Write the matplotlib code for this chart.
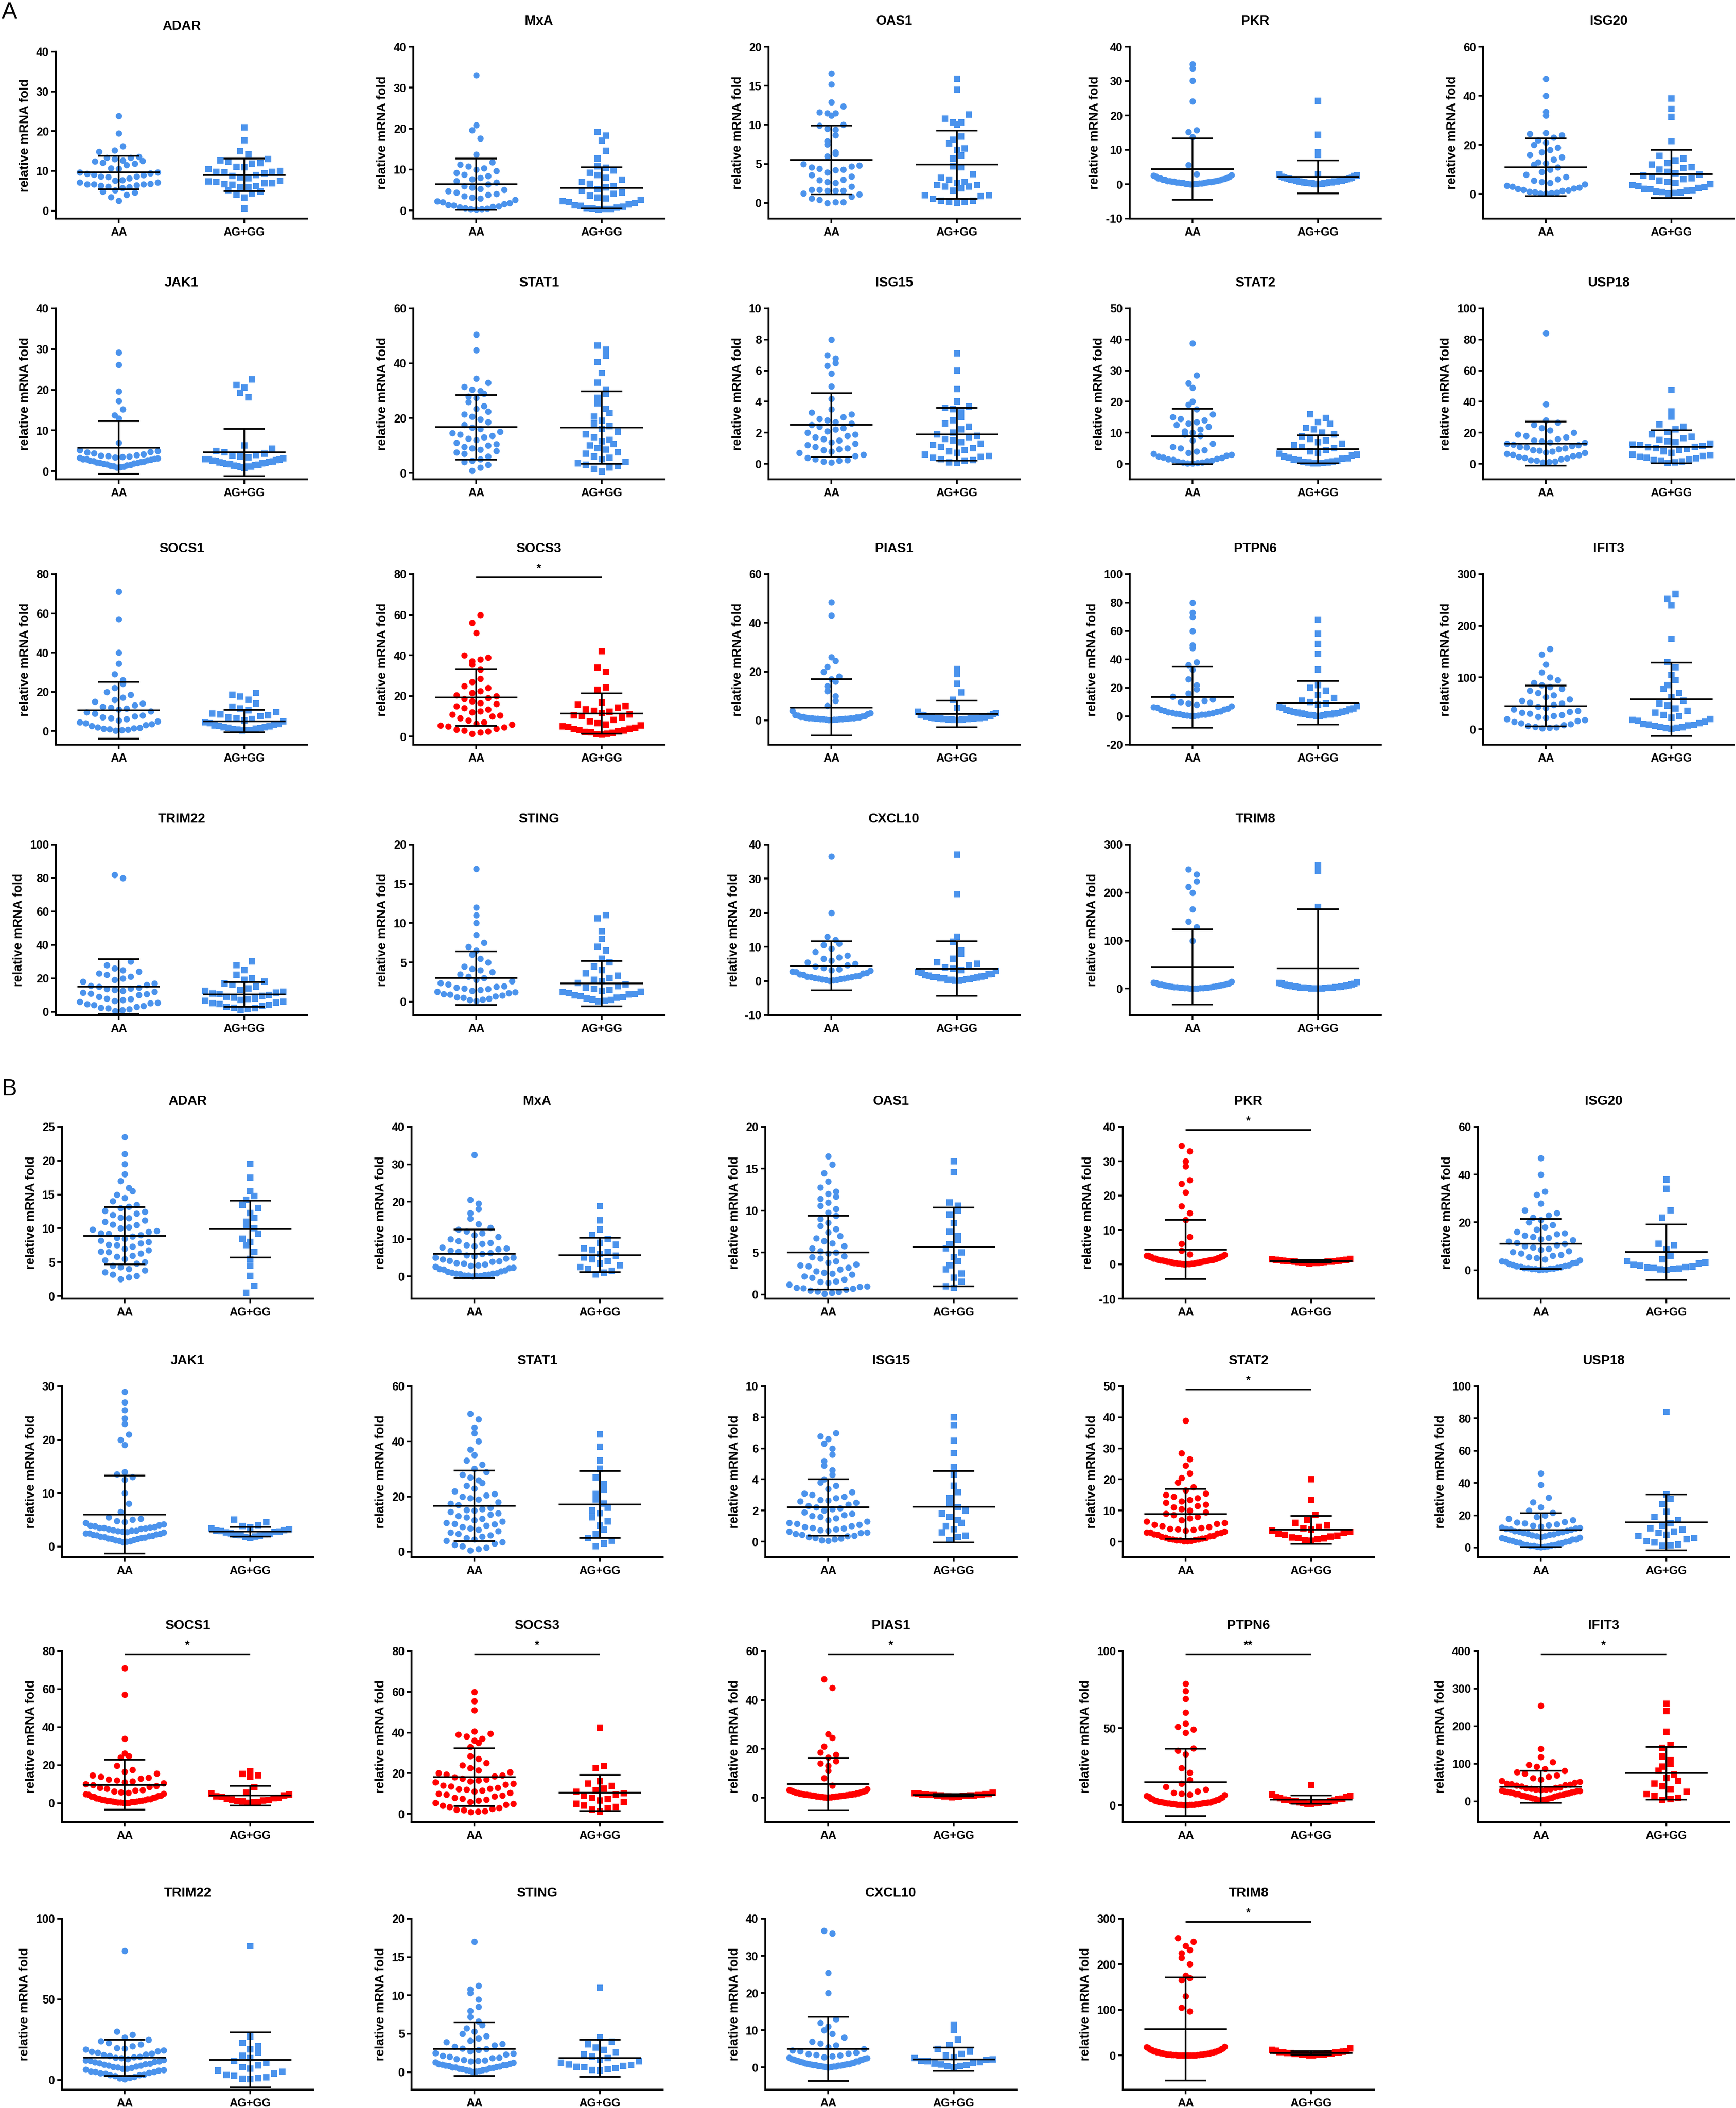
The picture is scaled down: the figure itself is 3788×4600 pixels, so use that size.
import numpy as np
import matplotlib
matplotlib.use("Agg")
import matplotlib.pyplot as plt

plt.rcParams['font.family'] = ['Liberation Sans', 'DejaVu Sans']

GENES = ['ADAR', 'MxA', 'OAS1', 'PKR', 'ISG20', 'JAK1', 'STAT1', 'ISG15', 'STAT2', 'USP18',
         'SOCS1', 'SOCS3', 'PIAS1', 'PTPN6', 'IFIT3', 'TRIM22', 'STING', 'CXCL10', 'TRIM8']
GROUPS = ['AA', 'AG+GG']
YLABEL = 'relative mRNA fold'

# ======================= Section A =======================
A_ADAR_AA = [23.8, 19.5, 16.2, 15.2, 14.9, 13.6, 13.3, 12.5, 12.4, 12.1, 11.8, 11.5, 12.6, 13.0, 13.4, 10.7,
             10.6, 9.6, 9.6, 9.4, 9.3, 9.1, 9.0, 8.6, 8.6, 8.5, 8.2, 7.7, 7.6, 7.1, 7.1, 6.8, 6.7, 6.7, 6.6,
             6.4, 6.3, 6.1, 6.0, 5.7, 5.1, 4.8, 4.6, 4.0, 3.4, 2.5]
A_ADAR_AG = [21.0, 17.7, 15.0, 14.2, 13.0, 12.6, 12.3, 12.0, 11.8, 11.0, 10.9, 10.5, 10.0, 9.8, 9.8, 9.6,
             9.4, 9.0, 8.7, 8.4, 8.2, 7.5, 7.4, 7.2, 6.9, 6.9, 6.6, 6.5, 6.2, 6.0, 5.9, 5.2, 4.8, 4.3, 4.0,
             3.3, 0.5]
A_MxA_AA = [33.0, 20.8, 19.6, 17.6, 13.7, 11.8, 11.2, 10.8, 10.3, 10.0, 9.6, 9.2, 8.8, 8.4, 8.0, 7.6, 7.2,
            6.8, 6.4, 6.0, 5.6, 5.3, 5.0, 4.7, 4.4, 4.1, 3.8, 3.5, 3.2, 2.9, 2.6, 2.3, 2.0, 1.8, 1.6, 1.4,
            1.2, 1.0, 0.9, 0.8, 0.6, 0.5, 0.4, 0.3, 0.2]
A_MxA_AG = [19.2, 18.3, 17.0, 14.6, 12.7, 10.8, 10.4, 9.8, 9.2, 8.6, 8.0, 7.5, 7.0, 6.5, 6.0, 5.6, 5.2, 4.8,
            4.4, 4.0, 3.6, 3.2, 2.9, 2.6, 2.3, 2.0, 1.8, 1.5, 1.3, 1.1, 0.9, 0.7, 0.6, 0.5, 0.4, 0.3, 0.2]
A_OAS1_AA = [16.6, 15.2, 12.9, 12.4, 11.6, 11.5, 11.2, 11.5, 9.9, 10.0, 9.4, 9.5, 8.7, 7.9, 7.5, 6.5, 6.3,
             6.0, 5.0, 4.6, 4.4, 4.3, 4.7, 4.8, 4.2, 3.9, 3.4, 3.6, 2.9, 3.0, 2.6, 2.7, 2.1, 1.7, 1.6, 1.6,
             1.6, 1.7, 1.2, 1.1, 0.6, 0.4, 0.8, 0.1, 0.0, 0.1]
A_OAS1_AG = [15.9, 14.5, 11.3, 10.8, 10.3, 10.0, 10.3, 8.5, 8.1, 7.6, 7.0, 6.8, 6.1, 5.7, 4.7, 4.6, 3.7, 3.0,
             3.2, 2.6, 2.7, 2.3, 2.1, 1.9, 1.6, 2.1, 2.3, 1.0, 0.9, 0.3, 0.1, 0.0, 0.1, 0.3, 0.5, 1.0]
A_PKR_AA = [35.0, 33.8, 30.2, 24.2, 15.8, 15.2, 13.8, 5.6, 3.0, 2.7, 2.5, 2.3, 2.1, 1.9, 1.8, 1.7, 1.6, 1.5,
            1.4, 1.3, 1.2, 1.1, 1.0, 0.95, 0.9, 0.85, 0.8, 0.75, 0.7, 0.65, 0.6, 0.55, 0.5, 0.45, 0.4, 0.35,
            0.3, 0.25, 0.2, 0.15, 0.1, 0.1, 0.05, 0.05]
A_PKR_AG = [24.3, 14.4, 9.4, 8.6, 3.0, 2.8, 2.6, 2.4, 2.2, 2.0, 1.9, 1.8, 1.7, 1.6, 1.5, 1.4, 1.3, 1.2, 1.1,
            1.0, 0.9, 0.85, 0.8, 0.75, 0.7, 0.6, 0.55, 0.5, 0.45, 0.4, 0.35, 0.3, 0.25, 0.2, 0.15, 0.1, 0.05]
A_ISG20_AA = [47.0, 40.0, 33.5, 32.0, 25.0, 24.5, 24.0, 23.0, 22.0, 21.0, 20.0, 19.0, 18.0, 17.0, 16.0, 15.0,
              14.0, 13.0, 12.5, 12.0, 11.0, 10.0, 9.0, 8.0, 7.0, 6.0, 5.5, 5.0, 4.5, 4.0, 3.5, 3.0, 2.7, 2.4,
              2.1, 1.8, 1.5, 1.3, 1.1, 0.9, 0.7, 0.5, 0.3, 0.2]
A_ISG20_AG = [39.0, 34.8, 31.5, 21.5, 15.5, 14.5, 13.5, 12.5, 12.0, 11.0, 10.5, 10.0, 9.0, 8.5, 8.0, 7.5, 7.0,
              6.5, 6.0, 5.5, 5.0, 4.5, 4.0, 3.6, 3.2, 2.8, 2.5, 2.2, 1.9, 1.6, 1.3, 1.0, 0.8, 0.6, 0.4, 0.2]
A_JAK1_AA = [29.2, 26.2, 19.6, 17.2, 15.2, 13.8, 13.0, 7.0, 5.2, 5.0, 4.8, 4.6, 4.4, 4.2, 4.0, 3.8, 3.7, 3.6,
             3.5, 3.4, 3.3, 3.2, 3.1, 3.0, 2.9, 2.8, 2.7, 2.6, 2.5, 2.4, 2.3, 2.2, 2.1, 2.0, 1.9, 1.8, 1.7,
             1.6, 1.5, 1.4, 1.3, 1.2, 1.0, 0.9]
A_JAK1_AG = [22.5, 21.2, 20.5, 19.3, 18.2, 6.3, 5.5, 5.0, 4.6, 4.3, 4.0, 3.8, 3.6, 3.4, 3.2, 3.0, 2.9, 2.8,
             2.7, 2.6, 2.5, 2.4, 2.3, 2.2, 2.1, 2.0, 1.9, 1.8, 1.7, 1.6, 1.5, 1.4, 1.3, 1.2, 1.1, 1.0, 0.8]
A_STAT1_AA = [50.5, 44.8, 34.5, 33.0, 31.5, 30.5, 30.0, 29.0, 28.0, 27.5, 26.0, 24.5, 23.5, 22.5, 21.5, 20.5,
              19.5, 18.5, 17.5, 16.5, 16.0, 15.0, 14.5, 14.0, 13.5, 13.0, 12.5, 12.0, 11.0, 10.5, 10.0, 9.5,
              9.0, 8.5, 8.0, 7.5, 7.0, 6.0, 5.0, 4.5, 4.0, 3.0, 2.0, 0.8]
A_STAT1_AG = [46.5, 45.0, 42.8, 40.5, 36.5, 33.0, 30.5, 29.0, 27.5, 25.5, 23.5, 22.0, 20.5, 19.0, 18.0, 17.0,
              16.0, 15.0, 14.0, 13.0, 12.0, 11.5, 10.5, 10.0, 9.0, 8.5, 7.5, 7.0, 6.0, 5.5, 5.0, 4.0, 3.5,
              3.0, 2.5, 2.0, 1.5, 0.5]
A_ISG15_AA = [8.0, 7.0, 6.8, 6.5, 6.3, 5.8, 5.0, 4.2, 3.5, 3.3, 3.2, 3.0, 2.9, 2.8, 2.7, 2.6, 2.5, 2.4, 2.3,
              2.2, 2.1, 2.0, 1.9, 1.8, 1.7, 1.6, 1.5, 1.4, 1.3, 1.2, 1.1, 1.0, 0.95, 0.9, 0.8, 0.7, 0.6, 0.5,
              0.4, 0.3, 0.25, 0.2, 0.15, 0.1]
A_ISG15_AG = [7.1, 6.0, 4.8, 4.0, 3.7, 3.6, 3.5, 3.3, 3.0, 2.8, 2.6, 2.4, 2.2, 2.0, 1.9, 1.8, 1.7, 1.6, 1.5,
              1.4, 1.3, 1.2, 1.1, 1.0, 0.9, 0.8, 0.7, 0.6, 0.5, 0.45, 0.4, 0.3, 0.25, 0.2, 0.1, 0.05]
A_STAT2_AA = [38.8, 28.5, 26.0, 24.5, 20.0, 19.0, 17.5, 16.0, 15.0, 14.5, 14.0, 13.5, 13.0, 12.5, 12.0, 11.0,
              10.5, 10.0, 9.5, 9.0, 7.5, 6.5, 5.5, 5.0, 4.5, 4.0, 3.6, 3.3, 3.0, 2.7, 2.4, 2.1, 1.9, 1.7, 1.5,
              1.3, 1.1, 0.9, 0.7, 0.5, 0.4, 0.3, 0.2, 0.1]
A_STAT2_AG = [16.0, 14.8, 13.5, 12.8, 11.5, 11.0, 10.0, 9.5, 8.8, 8.0, 7.5, 7.0, 6.5, 6.0, 5.5, 5.0, 4.5, 4.0,
              3.6, 3.2, 2.9, 2.6, 2.3, 2.0, 1.8, 1.6, 1.4, 1.2, 1.0, 0.8, 0.6, 0.5, 0.4, 0.3, 0.2, 0.1]
A_USP18_AA = [84.0, 38.5, 28.0, 26.5, 25.0, 23.0, 21.5, 20.0, 19.0, 18.0, 17.0, 16.0, 15.0, 14.5, 14.0, 13.5,
              13.0, 12.5, 12.0, 11.5, 11.0, 10.5, 10.0, 9.5, 9.0, 8.5, 8.0, 7.5, 7.0, 6.5, 6.0, 5.5, 5.0, 4.5,
              4.0, 3.5, 3.0, 2.5, 2.0, 1.5, 1.2, 1.0]
A_USP18_AG = [47.5, 33.5, 30.5, 25.5, 24.0, 22.0, 20.5, 19.0, 17.5, 16.5, 15.5, 14.5, 14.0, 13.0, 12.5, 12.0,
              11.5, 11.0, 10.5, 10.0, 9.5, 9.0, 8.0, 7.0, 6.0, 5.5, 5.0, 4.5, 4.0, 3.5, 3.0, 2.5, 2.0, 1.5,
              1.0, 0.5]
A_SOCS1_AA = [71.0, 57.0, 40.0, 34.5, 29.0, 26.0, 24.0, 22.0, 20.0, 18.5, 17.0, 16.0, 15.0, 14.0, 13.0, 12.5,
              12.0, 11.5, 11.0, 10.0, 9.5, 9.0, 8.0, 7.5, 7.0, 6.5, 6.0, 5.5, 5.0, 4.5, 4.0, 3.5, 3.0, 2.5,
              2.0, 1.7, 1.4, 1.1, 0.9, 0.7, 0.5, 0.3]
A_SOCS1_AG = [19.5, 18.5, 17.5, 16.0, 14.0, 12.5, 11.5, 10.5, 9.5, 9.0, 8.5, 8.0, 7.5, 7.0, 6.5, 6.0, 5.5, 5.0,
              4.5, 4.0, 3.5, 3.2, 2.9, 2.6, 2.3, 2.0, 1.8, 1.6, 1.4, 1.2, 1.0, 0.8, 0.6, 0.4, 0.2]
A_SOCS3_AA = [60.0, 56.0, 51.0, 40.0, 39.0, 38.0, 37.0, 35.5, 33.0, 28.5, 27.0, 25.0, 24.0, 22.5, 21.5, 20.5,
              20.0, 19.0, 18.5, 17.5, 16.5, 16.0, 15.0, 14.0, 13.5, 12.5, 12.0, 11.0, 10.5, 10.0, 9.0, 8.0,
              7.0, 6.5, 6.0, 5.5, 5.0, 4.5, 4.0, 3.5, 3.0, 2.5, 2.0, 1.5]
A_SOCS3_AG = [42.0, 34.0, 31.8, 24.3, 23.2, 16.8, 15.7, 14.9, 14.2, 13.3, 12.7, 12.2, 11.5, 10.8, 10.5, 10.0,
              9.3, 8.1, 7.6, 6.6, 6.0, 5.5, 5.0, 4.7, 4.4, 4.0, 3.6, 3.2, 2.9, 2.6, 2.3, 2.0, 1.8, 1.5, 1.2, 1.0]
A_PIAS1_AA = [48.5, 43.0, 26.0, 24.5, 22.0, 20.0, 18.0, 17.0, 16.0, 14.0, 12.0, 10.0, 8.0, 6.0, 4.0, 3.0, 2.6,
              2.3, 2.0, 1.8, 1.6, 1.5, 1.4, 1.3, 1.2, 1.1, 1.0, 0.95, 0.9, 0.85, 0.8, 0.75, 0.7, 0.65, 0.6,
              0.55, 0.5, 0.45, 0.4, 0.35, 0.3, 0.2, 0.1]
A_PIAS1_AG = [21.0, 19.0, 15.0, 11.5, 8.5, 5.0, 3.5, 3.0, 2.6, 2.3, 2.0, 1.8, 1.6, 1.5, 1.4, 1.3, 1.2, 1.1,
              1.0, 0.9, 0.85, 0.8, 0.75, 0.7, 0.65, 0.6, 0.55, 0.5, 0.45, 0.4, 0.35, 0.3, 0.25, 0.2, 0.1]
A_PTPN6_AA = [80.0, 73.0, 70.0, 60.0, 50.0, 48.0, 38.0, 36.0, 33.0, 26.0, 22.0, 19.0, 16.0, 14.0, 12.0, 11.0,
              10.0, 9.0, 8.0, 7.0, 6.5, 6.0, 5.5, 5.0, 4.5, 4.0, 3.6, 3.2, 2.9, 2.6, 2.3, 2.0, 1.8, 1.6, 1.4,
              1.2, 1.0, 0.8, 0.6, 0.4, 0.2]
A_PTPN6_AG = [68.0, 58.0, 51.0, 44.0, 33.0, 22.0, 20.0, 18.0, 15.0, 13.0, 11.0, 10.0, 9.0, 8.0, 7.0, 6.5, 6.0,
              5.5, 5.0, 4.5, 4.0, 3.6, 3.2, 2.8, 2.5, 2.2, 2.0, 1.8, 1.6, 1.4, 1.2, 1.0, 0.8, 0.6, 0.4, 0.2]
A_IFIT3_AA = [155, 145, 125, 110, 100, 95, 90, 85, 82, 78, 75, 70, 66, 62, 58, 55, 52, 50, 47, 44, 41, 38, 36,
              34, 32, 30, 28, 26, 24, 22, 20, 18, 16, 14, 12, 10, 8, 6, 5, 4, 3, 2]
A_IFIT3_AG = [262, 252, 240, 175, 130, 120, 105, 95, 85, 78, 70, 62, 55, 50, 45, 40, 36, 32, 28, 25, 22, 20,
              18, 16, 14, 12, 10, 9, 8, 7, 6, 5, 4, 3, 2, 1]
A_TRIM22_AA = [82.0, 80.0, 30.0, 28.0, 26.0, 25.0, 24.0, 23.0, 22.0, 21.0, 20.0, 19.0, 18.0, 17.0, 16.0, 15.5,
               15.0, 14.5, 14.0, 13.5, 13.0, 12.5, 12.0, 11.5, 11.0, 10.5, 10.0, 9.0, 8.0, 7.5, 7.0, 6.5, 6.0,
               5.5, 5.0, 4.5, 4.0, 3.5, 3.0, 2.5, 2.0, 1.5, 1.0, 0.5]
A_TRIM22_AG = [30.0, 28.0, 25.0, 22.0, 20.0, 19.0, 18.0, 17.0, 16.0, 15.0, 14.0, 13.0, 12.5, 12.0, 11.5, 11.0,
               10.5, 10.0, 9.5, 9.0, 8.5, 8.0, 7.5, 7.0, 6.5, 6.0, 5.5, 5.0, 4.5, 4.0, 3.5, 3.0, 2.5, 2.0,
               1.5, 1.0]
A_STING_AA = [16.9, 12.0, 11.0, 10.0, 8.5, 7.5, 7.0, 6.5, 6.0, 5.5, 5.0, 4.5, 4.2, 4.0, 3.8, 3.5, 3.2, 3.0,
              2.8, 2.6, 2.4, 2.2, 2.0, 1.9, 1.8, 1.7, 1.6, 1.5, 1.4, 1.3, 1.2, 1.1, 1.0, 0.9, 0.8, 0.7, 0.6,
              0.5, 0.4, 0.3, 0.2, 0.1]
A_STING_AG = [11.0, 10.6, 9.0, 8.0, 7.0, 6.5, 5.5, 5.0, 4.5, 4.0, 3.6, 3.3, 3.0, 2.8, 2.6, 2.4, 2.2, 2.0, 1.8,
              1.6, 1.5, 1.4, 1.3, 1.2, 1.1, 1.0, 0.9, 0.8, 0.7, 0.6, 0.5, 0.4, 0.3, 0.2, 0.1, 0.05]
A_CXCL10_AA = [36.5, 20.0, 13.0, 12.0, 11.0, 10.5, 9.5, 8.5, 7.5, 7.0, 6.5, 6.0, 5.5, 5.0, 4.6, 4.2, 3.8, 3.5,
               3.2, 3.0, 2.8, 2.6, 2.4, 2.2, 2.0, 1.8, 1.6, 1.4, 1.3, 1.2, 1.1, 1.0, 0.9, 0.8, 0.7, 0.6, 0.5,
               0.4, 0.3, 0.2, 0.1]
A_CXCL10_AG = [37.0, 25.5, 13.0, 11.5, 9.0, 8.0, 6.5, 5.5, 5.0, 4.5, 4.0, 3.6, 3.2, 2.9, 2.6, 2.3, 2.1, 1.9,
               1.7, 1.5, 1.4, 1.3, 1.2, 1.1, 1.0, 0.9, 0.8, 0.7, 0.6, 0.5, 0.4, 0.3, 0.2, 0.1, 0.05]
A_TRIM8_AA = [248, 238, 224, 212, 200, 165, 140, 128, 100, 15, 13, 12, 11, 10, 9, 8.5, 8, 7.5, 7, 6.5, 6, 5.5,
              5, 4.5, 4, 3.6, 3.2, 2.8, 2.5, 2.2, 2.0, 1.8, 1.6, 1.4, 1.2, 1.0, 0.8, 0.6, 0.4, 0.2]
A_TRIM8_AG = [258, 246, 170, 14, 12, 11, 10, 9, 8, 7.5, 7, 6.5, 6, 5.5, 5, 4.5, 4, 3.6, 3.2, 2.8, 2.5, 2.2,
              2.0, 1.8, 1.6, 1.4, 1.2, 1.0, 0.8, 0.6, 0.4, 0.2, 0.1]

A_YTICKS = [[0, 10, 20, 30, 40], [0, 10, 20, 30, 40], [0, 5, 10, 15, 20], [-10, 0, 10, 20, 30, 40],
            [0, 20, 40, 60], [0, 10, 20, 30, 40], [0, 20, 40, 60], [0, 2, 4, 6, 8, 10],
            [0, 10, 20, 30, 40, 50], [0, 20, 40, 60, 80, 100], [0, 20, 40, 60, 80], [0, 20, 40, 60, 80],
            [0, 20, 40, 60], [-20, 0, 20, 40, 60, 80, 100], [0, 100, 200, 300], [0, 20, 40, 60, 80, 100],
            [0, 5, 10, 15, 20], [-10, 0, 10, 20, 30, 40], [0, 100, 200, 300]]
A_YMIN = [-2, -2, -2, -10, -10, -2, -2.3, -1, -5, -10, -7, -4, -10, -20, -30, -2, -1.7, -10, -55]
A_MEAN_AA = [9.6, 6.4, 5.5, 4.4, 10.9, 5.8, 16.7, 2.5, 8.8, 12.9, 10.5, 19.3, 5.3, 13.5, 44.7, 15.0, 3.0, 4.4, 45]
A_SD_AA = [4.2, 6.3, 4.4, 8.9, 11.8, 6.5, 11.8, 2.05, 8.9, 14.2, 14.5, 14.0, 11.6, 21.5, 39.5, 16.5, 3.4, 7.2, 78]
A_MEAN_AG = [9.0, 5.5, 4.9, 2.2, 8.2, 4.6, 16.6, 1.9, 4.7, 11.0, 5.0, 11.4, 2.6, 9.5, 58, 10.3, 2.3, 3.6, 42]
A_SD_AG = [4.1, 5.0, 4.35, 4.8, 9.8, 5.8, 13.2, 1.7, 4.5, 10.7, 5.8, 9.9, 5.4, 15.2, 71, 7.5, 2.9, 8.0, 123]
A_SIG = ['', '', '', '', '', '', '', '', '', '', '', '*', '', '', '', '', '', '', '']

# ======================= Section B =======================
B_ADAR_AA = [23.5, 21.0, 19.5, 18.0, 17.0, 16.0, 15.5, 15.0, 14.5, 14.0, 13.5, 13.2, 13.0, 12.5, 12.2, 12.0,
             11.5, 11.2, 11.0, 10.5, 10.2, 10.0, 9.8, 9.5, 9.2, 9.0, 8.8, 8.5, 8.2, 8.0, 7.8, 7.5, 7.3, 7.0,
             6.8, 6.5, 6.3, 6.0, 5.8, 5.5, 5.3, 5.0, 4.8, 4.5, 4.3, 4.0, 3.8, 3.5, 3.2, 3.0, 2.8, 2.5, 9.6,
             8.6, 7.6, 6.6, 10.6, 11.6, 12.6, 9.3]
B_ADAR_AG = [19.5, 17.5, 15.5, 14.8, 14.2, 13.5, 13.0, 12.3, 11.5, 11.0, 10.5, 10.0, 9.2, 8.5, 8.0, 7.5, 6.5,
             5.5, 4.5, 3.0, 1.5, 0.5]
B_MxA_AA = [32.5, 20.5, 19.5, 18.0, 17.0, 15.5, 14.0, 13.0, 12.5, 12.0, 11.5, 11.0, 10.5, 10.0, 9.5, 9.0, 8.7,
            8.4, 8.1, 7.8, 7.5, 7.2, 6.9, 6.6, 6.3, 6.0, 5.7, 5.4, 5.1, 4.8, 4.5, 4.2, 3.9, 3.6, 3.4, 3.2, 3.0,
            2.8, 2.6, 2.4, 2.2, 2.0, 1.8, 1.6, 1.4, 1.2, 1.0, 0.9, 0.8, 0.7, 0.6, 0.5, 0.4, 0.3, 0.2, 0.15,
            0.1, 0.05, 5.0, 4.0]
B_MxA_AG = [18.8, 15.0, 12.5, 11.0, 10.0, 9.0, 8.5, 7.5, 7.0, 6.5, 6.0, 5.5, 5.0, 4.5, 4.0, 3.5, 3.0, 2.5, 2.0,
            1.5, 1.0, 0.5]
B_OAS1_AA = [16.5, 15.5, 14.5, 13.5, 12.8, 12.3, 12.0, 11.7, 11.4, 11.0, 10.6, 10.2, 9.8, 9.4, 9.0, 8.6, 8.2,
             7.8, 7.4, 7.0, 6.7, 6.4, 6.1, 5.8, 5.5, 5.2, 4.9, 4.6, 4.3, 4.0, 3.8, 3.6, 3.4, 3.2, 3.0, 2.8,
             2.6, 2.4, 2.2, 2.0, 1.8, 1.6, 1.4, 1.2, 1.0, 0.9, 0.8, 0.7, 0.6, 0.5, 0.4, 0.3, 0.2, 0.1, 2.5,
             3.5, 4.5, 5.0, 1.5, 0.75]
B_OAS1_AG = [15.9, 14.6, 11.0, 10.6, 10.0, 9.5, 8.5, 7.5, 7.0, 6.5, 6.0, 5.5, 5.0, 4.5, 4.0, 3.5, 3.0, 2.5,
             2.0, 1.5, 1.0, 0.8]
B_PKR_AA = [34.5, 33.0, 30.0, 28.5, 24.5, 23.5, 21.0, 17.0, 15.0, 13.0, 8.0, 6.0, 4.0, 3.0, 2.8, 2.6, 2.5, 2.4,
            2.3, 2.2, 2.1, 2.0, 1.9, 1.8, 1.7, 1.6, 1.5, 1.45, 1.4, 1.35, 1.3, 1.25, 1.2, 1.15, 1.1, 1.05, 1.0,
            0.95, 0.9, 0.85, 0.8, 0.75, 0.7, 0.65, 0.6, 0.55, 0.5, 0.45, 0.4, 0.35, 0.3, 0.28, 0.25, 0.22,
            0.2, 0.17, 0.15, 0.12, 0.1, 0.05]
B_PKR_AG = [1.6, 1.5, 1.4, 1.3, 1.25, 1.2, 1.1, 1.05, 1.0, 0.95, 0.9, 0.85, 0.8, 0.75, 0.7, 0.65, 0.6, 0.55,
            0.5, 0.45, 0.4, 0.3]
B_ISG20_AA = [47.0, 40.0, 33.0, 31.5, 28.0, 25.0, 24.0, 23.0, 22.0, 21.0, 20.0, 19.0, 18.0, 17.0, 16.0, 15.5,
              15.0, 14.5, 14.0, 13.5, 13.0, 12.5, 12.0, 11.5, 11.0, 10.5, 10.0, 9.5, 9.0, 8.5, 8.0, 7.5, 7.0,
              6.5, 6.0, 5.5, 5.0, 4.6, 4.2, 3.8, 3.5, 3.2, 2.9, 2.6, 2.3, 2.0, 1.8, 1.6, 1.4, 1.2, 1.0, 0.9,
              0.8, 0.7, 0.6, 0.5, 0.4, 0.3, 0.2, 0.1]
B_ISG20_AG = [38.0, 34.0, 25.0, 22.0, 11.0, 10.5, 8.5, 6.0, 4.5, 3.8, 3.2, 2.7, 2.2, 1.8, 1.5, 1.2, 1.0,
              0.8, 0.6, 0.4, 0.2, 0.1]
B_JAK1_AA = [29.0, 27.0, 25.5, 24.0, 23.0, 21.0, 20.0, 19.0, 14.0, 13.5, 13.0, 12.5, 10.0, 8.0, 6.5, 5.5, 5.2,
             5.0, 4.8, 4.6, 4.4, 4.2, 4.0, 3.9, 3.8, 3.7, 3.6, 3.5, 3.4, 3.3, 3.2, 3.1, 3.0, 2.9, 2.8, 2.7,
             2.6, 2.5, 2.4, 2.3, 2.2, 2.1, 2.0, 1.9, 1.8, 1.7, 1.6, 1.5, 1.4, 1.3, 1.2, 1.1, 1.0, 0.9, 0.8,
             3.45, 2.95, 2.45, 1.95, 1.45]
B_JAK1_AG = [5.0, 4.5, 4.0, 3.8, 3.6, 3.4, 3.2, 3.1, 3.0, 2.9, 2.8, 2.7, 2.6, 2.5, 2.4, 2.3, 2.2, 2.1, 2.0, 1.9,
             1.8, 1.6]
B_STAT1_AA = [50.0, 48.0, 45.0, 43.0, 40.0, 37.0, 35.0, 33.0, 31.5, 30.0, 29.0, 28.0, 27.0, 26.0, 25.0, 24.0,
              23.0, 22.0, 21.0, 20.0, 19.5, 19.0, 18.0, 17.5, 17.0, 16.0, 15.5, 15.0, 14.5, 14.0, 13.5, 13.0,
              12.5, 12.0, 11.5, 11.0, 10.5, 10.0, 9.5, 9.0, 8.5, 8.0, 7.5, 7.0, 6.5, 6.0, 5.5, 5.0, 4.5, 4.0,
              3.5, 3.0, 2.5, 2.0, 1.5, 1.0, 0.5, 20.5, 15.2, 10.2]
B_STAT1_AG = [42.5, 38.0, 33.0, 30.0, 27.0, 24.5, 22.5, 21.0, 19.0, 17.5, 16.0, 15.0, 14.0, 12.5, 11.0, 9.5,
              8.0, 6.5, 5.0, 4.0, 3.0, 2.0]
B_ISG15_AA = [7.0, 6.8, 6.6, 6.3, 6.0, 5.6, 5.2, 4.9, 4.6, 4.3, 4.0, 3.8, 3.6, 3.4, 3.2, 3.0, 2.9, 2.8, 2.7,
              2.6, 2.5, 2.4, 2.3, 2.2, 2.1, 2.0, 1.9, 1.8, 1.7, 1.6, 1.5, 1.4, 1.3, 1.2, 1.1, 1.0, 0.95, 0.9,
              0.85, 0.8, 0.75, 0.7, 0.65, 0.6, 0.55, 0.5, 0.45, 0.4, 0.35, 0.3, 0.25, 0.2, 0.15, 0.1, 3.1,
              2.65, 2.15, 1.65, 1.15, 0.05]
B_ISG15_AG = [8.0, 7.5, 6.5, 5.7, 4.8, 4.3, 3.6, 3.2, 2.8, 2.5, 2.2, 2.0, 1.8, 1.6, 1.4, 1.2, 1.0, 0.8, 0.6,
              0.4, 0.3, 0.1]
B_STAT2_AA = [39.0, 28.5, 26.5, 24.5, 22.0, 20.5, 19.0, 17.5, 16.5, 15.5, 15.0, 14.5, 14.0, 13.5, 13.0, 12.5,
              12.0, 11.5, 11.0, 10.5, 10.0, 9.5, 9.0, 8.5, 8.0, 7.5, 7.0, 6.5, 6.0, 5.7, 5.4, 5.1, 4.8, 4.5,
              4.2, 3.9, 3.6, 3.3, 3.0, 2.8, 2.6, 2.4, 2.2, 2.0, 1.8, 1.6, 1.4, 1.2, 1.0, 0.9, 0.8, 0.7, 0.6,
              0.5, 0.4, 0.3, 0.2, 0.1, 4.0, 3.0]
B_STAT2_AG = [20.0, 13.5, 8.5, 7.0, 6.0, 5.3, 4.8, 4.3, 3.9, 3.5, 3.1, 2.8, 2.5, 2.2, 1.9, 1.6, 1.4, 1.2, 1.0,
              0.8, 0.5, 0.3]
B_USP18_AA = [46.0, 39.0, 31.0, 28.0, 25.0, 23.0, 21.5, 20.0, 19.0, 18.0, 17.0, 16.0, 15.5, 15.0, 14.5, 14.0,
              13.5, 13.0, 12.5, 12.0, 11.5, 11.0, 10.5, 10.0, 9.5, 9.0, 8.5, 8.0, 7.5, 7.0, 6.5, 6.0, 5.5, 5.0,
              4.5, 4.0, 3.6, 3.2, 2.8, 2.4, 2.0, 1.8, 1.6, 1.4, 1.2, 1.0, 0.8, 0.6, 0.4, 0.2, 12.2, 11.2,
              10.2, 9.2, 8.2, 7.2, 6.2, 5.2, 4.2, 3.4]
B_USP18_AG = [84.0, 33.0, 30.0, 27.0, 22.0, 19.0, 17.0, 15.0, 13.5, 12.0, 11.0, 10.0, 9.0, 8.0, 7.0, 6.0, 5.0,
              4.0, 3.0, 2.0, 1.5, 1.0]
B_SOCS1_AA = [71.0, 57.0, 34.0, 26.3, 24.8, 24.0, 19.6, 17.5, 16.5, 15.5, 14.5, 14.0, 13.5, 13.0, 12.5, 12.0,
              11.5, 11.0, 10.5, 10.0, 9.5, 9.0, 8.5, 8.0, 7.5, 7.0, 6.6, 6.2, 5.8, 5.4, 5.0, 4.7, 4.4, 4.1,
              3.8, 3.5, 3.2, 2.9, 2.6, 2.3, 2.0, 1.8, 1.6, 1.4, 1.2, 1.0, 0.9, 0.8, 0.7, 0.6, 0.5, 0.4, 0.3,
              0.2, 0.1, 0.05, 3.0, 2.1, 1.5, 1.1]
B_SOCS1_AG = [16.7, 15.4, 14.5, 13.8, 8.3, 5.5, 5.0, 4.5, 4.0, 3.6, 3.2, 2.8, 2.5, 2.2, 1.9, 1.6, 1.3, 1.0, 0.8,
              0.6, 0.4, 0.2]
B_SOCS3_AA = [60.0, 55.5, 51.0, 40.5, 39.5, 39.0, 38.0, 37.0, 36.0, 35.0, 33.0, 28.5, 27.0, 25.0, 24.0, 22.5,
              21.5, 20.5, 20.0, 19.5, 19.0, 18.5, 18.0, 17.5, 17.0, 16.0, 15.5, 15.0, 14.5, 14.0, 13.5, 13.0,
              12.5, 12.0, 11.5, 11.0, 10.5, 10.0, 9.5, 9.0, 8.5, 8.0, 7.5, 7.0, 6.5, 6.0, 5.5, 5.0, 4.5, 4.0,
              3.5, 3.0, 2.5, 2.0, 1.8, 1.5, 1.2, 1.0, 16.5, 12.2]
B_SOCS3_AG = [42.3, 23.5, 22.5, 16.0, 15.0, 13.8, 12.5, 11.5, 10.8, 10.2, 9.5, 8.8, 8.0, 7.2, 6.5, 5.8, 5.0,
              4.2, 3.5, 2.8, 2.0, 1.2]
B_PIAS1_AA = [48.5, 45.0, 26.0, 24.5, 21.0, 18.5, 17.5, 16.5, 15.0, 14.0, 13.0, 11.0, 8.0, 5.0, 3.5, 3.2, 3.0,
              2.8, 2.6, 2.5, 2.4, 2.3, 2.2, 2.1, 2.0, 1.9, 1.8, 1.7, 1.6, 1.5, 1.45, 1.4, 1.35, 1.3, 1.25, 1.2,
              1.15, 1.1, 1.05, 1.0, 0.95, 0.9, 0.85, 0.8, 0.75, 0.7, 0.65, 0.6, 0.55, 0.5, 0.45, 0.4, 0.35,
              0.3, 0.25, 0.2, 0.15, 0.1, 0.05, 0.02]
B_PIAS1_AG = [2.0, 1.8, 1.6, 1.5, 1.4, 1.3, 1.2, 1.15, 1.1, 1.05, 1.0, 0.95, 0.9, 0.85, 0.8, 0.75, 0.7, 0.6,
              0.5, 0.4, 0.3, 0.2]
B_PTPN6_AA = [79.0, 74.0, 69.0, 60.0, 53.0, 51.0, 49.0, 47.0, 37.0, 35.5, 33.0, 24.0, 21.0, 16.5, 14.0, 12.0,
              10.0, 9.0, 8.0, 7.5, 7.0, 6.5, 6.0, 5.5, 5.0, 4.6, 4.2, 3.9, 3.6, 3.3, 3.0, 2.8, 2.6, 2.4, 2.2,
              2.0, 1.9, 1.8, 1.7, 1.6, 1.5, 1.4, 1.3, 1.2, 1.1, 1.0, 0.9, 0.8, 0.7, 0.6, 0.5, 0.45, 0.4, 0.35,
              0.3, 0.25, 0.2, 0.15, 0.1, 0.05]
B_PTPN6_AG = [13.0, 7.0, 6.0, 5.5, 5.0, 4.6, 4.2, 3.9, 3.6, 3.3, 3.0, 2.8, 2.6, 2.4, 2.2, 2.0, 1.8, 1.6, 1.4,
              1.2, 1.0, 0.8]
B_IFIT3_AA = [255, 140, 118, 105, 98, 92, 86, 82, 78, 74, 70, 66, 62, 58, 55, 52, 50, 48, 46, 44, 42, 40, 38,
              36, 34, 33, 32, 31, 30, 29, 28, 27, 26, 25, 24, 23, 22, 21, 20, 19, 18, 17, 16, 15, 14, 13, 12,
              11, 10, 9, 8, 7, 6, 5, 4, 3, 35, 45, 28.5, 24.5]
B_IFIT3_AG = [260, 240, 185, 150, 143, 120, 110, 100, 92, 82, 72, 62, 55, 47, 40, 33, 26, 20, 15, 10, 6, 3]
B_TRIM22_AA = [80.0, 30.0, 28.0, 26.5, 25.0, 24.0, 23.0, 22.0, 21.0, 20.0, 19.5, 19.0, 18.5, 18.0, 17.5, 17.0,
               16.5, 16.0, 15.5, 15.0, 14.5, 14.0, 13.5, 13.0, 12.5, 12.0, 11.5, 11.0, 10.5, 10.0, 9.5, 9.0,
               8.5, 8.0, 7.5, 7.0, 6.5, 6.0, 5.5, 5.0, 4.5, 4.0, 3.5, 3.0, 2.5, 2.0, 1.5, 1.0, 0.5, 12.2, 11.2,
               10.2, 9.2, 8.2, 7.2, 6.2, 5.2, 4.2, 3.2, 14.2]
B_TRIM22_AG = [83.0, 27.0, 23.0, 21.0, 19.0, 17.0, 15.0, 13.5, 12.0, 10.5, 9.0, 8.0, 7.0, 6.0, 5.0, 4.0, 3.2,
               2.5, 1.8, 1.2, 0.8, 0.4]
B_STING_AA = [17.0, 11.3, 10.8, 10.3, 9.5, 8.5, 8.0, 7.2, 6.6, 6.1, 5.7, 5.3, 5.0, 4.7, 4.4, 4.1, 3.9, 3.7, 3.5,
              3.3, 3.1, 2.9, 2.7, 2.5, 2.3, 2.1, 1.9, 1.8, 1.7, 1.6, 1.5, 1.4, 1.3, 1.2, 1.1, 1.0, 0.95, 0.9,
              0.85, 0.8, 0.75, 0.7, 0.65, 0.6, 0.55, 0.5, 0.45, 0.4, 0.35, 0.3, 0.25, 0.2, 0.15, 0.1, 0.05,
              2.0, 3.0, 2.4, 1.45, 1.05]
B_STING_AG = [11.0, 4.5, 4.0, 3.6, 3.2, 2.9, 2.6, 2.3, 2.0, 1.8, 1.6, 1.4, 1.2, 1.0, 0.9, 0.8, 0.7, 0.6, 0.5,
              0.4, 0.3, 0.2]
B_CXCL10_AA = [36.8, 36.0, 25.5, 20.0, 13.0, 12.0, 11.0, 10.0, 9.0, 8.0, 7.0, 6.5, 6.0, 5.5, 5.0, 4.6, 4.3, 4.0,
               3.8, 3.6, 3.4, 3.2, 3.0, 2.8, 2.6, 2.5, 2.4, 2.3, 2.2, 2.1, 2.0, 1.9, 1.8, 1.7, 1.6, 1.5, 1.4,
               1.3, 1.2, 1.1, 1.0, 0.95, 0.9, 0.85, 0.8, 0.75, 0.7, 0.65, 0.6, 0.55, 0.5, 0.45, 0.4, 0.35,
               0.3, 0.25, 0.2, 0.15, 0.1, 0.05]
B_CXCL10_AG = [11.5, 10.0, 7.5, 6.0, 5.0, 4.2, 3.6, 3.2, 2.8, 2.5, 2.2, 2.0, 1.8, 1.6, 1.4, 1.2, 1.0, 0.8, 0.6,
               0.4, 0.3, 0.1]
B_TRIM8_AA = [258, 250, 241, 232, 225, 215, 200, 175, 170, 165, 130, 105, 97, 20, 18, 16, 15, 14, 13, 12, 11,
              10, 9.5, 9, 8.5, 8, 7.5, 7, 6.5, 6, 5.5, 5, 4.7, 4.4, 4.1, 3.8, 3.5, 3.2, 2.9, 2.6, 2.4, 2.2,
              2.0, 1.8, 1.6, 1.4, 1.2, 1.0, 0.9, 0.8, 0.7, 0.6, 0.5, 0.4, 0.3, 0.25, 0.2, 0.15, 0.1, 0.05]
B_TRIM8_AG = [15.0, 12.0, 10.0, 9.0, 8.0, 7.5, 7.0, 6.5, 6.0, 5.5, 5.0, 4.5, 4.0, 3.5, 3.0, 2.6, 2.2, 1.8, 1.4,
              1.0, 0.6, 0.3]

B_YTICKS = [[0, 5, 10, 15, 20, 25], [0, 10, 20, 30, 40], [0, 5, 10, 15, 20], [-10, 0, 10, 20, 30, 40],
            [0, 20, 40, 60], [0, 10, 20, 30], [0, 20, 40, 60], [0, 2, 4, 6, 8, 10],
            [0, 10, 20, 30, 40, 50], [0, 20, 40, 60, 80, 100], [0, 20, 40, 60, 80], [0, 20, 40, 60, 80],
            [0, 20, 40, 60], [0, 50, 100], [0, 100, 200, 300, 400], [0, 50, 100],
            [0, 5, 10, 15, 20], [0, 10, 20, 30, 40], [0, 100, 200, 300]]
B_YMIN = [-0.4, -6, -0.5, -10, -12, -2, -2, -1, -5, -6, -10, -4, -10, -11, -55, -6, -2.3, -6, -75]
B_MEAN_AA = [8.9, 6.0, 5.0, 4.3, 11.0, 6.0, 16.6, 2.2, 8.9, 10.8, 9.6, 18.0, 5.5, 14.8, 39, 13.8, 3.0, 5.0, 58]
B_SD_AA = [4.25, 6.5, 4.4, 8.6, 10.5, 7.3, 12.8, 1.8, 8.0, 10.6, 13.1, 14.2, 10.7, 21.8, 43, 11.2, 3.5, 8.6, 113]
B_MEAN_AG = [9.9, 5.7, 5.7, 0.9, 7.5, 2.8, 17.1, 2.25, 3.8, 15.7, 3.9, 10.4, 1.0, 3.6, 75, 12.4, 1.8, 2.2, 5.0]
B_SD_AG = [4.2, 4.6, 4.7, 0.4, 11.6, 0.9, 12.1, 2.3, 4.5, 17.3, 5.1, 8.9, 0.45, 2.8, 70, 17.0, 2.4, 3.2, 4.0]
B_SIG = ['', '', '', '*', '', '', '', '', '*', '', '*', '*', '*', '**', '*', '', '', '', '*']

A_POINTS = [(A_ADAR_AA, A_ADAR_AG), (A_MxA_AA, A_MxA_AG), (A_OAS1_AA, A_OAS1_AG), (A_PKR_AA, A_PKR_AG),
            (A_ISG20_AA, A_ISG20_AG), (A_JAK1_AA, A_JAK1_AG), (A_STAT1_AA, A_STAT1_AG),
            (A_ISG15_AA, A_ISG15_AG), (A_STAT2_AA, A_STAT2_AG), (A_USP18_AA, A_USP18_AG),
            (A_SOCS1_AA, A_SOCS1_AG), (A_SOCS3_AA, A_SOCS3_AG), (A_PIAS1_AA, A_PIAS1_AG),
            (A_PTPN6_AA, A_PTPN6_AG), (A_IFIT3_AA, A_IFIT3_AG), (A_TRIM22_AA, A_TRIM22_AG),
            (A_STING_AA, A_STING_AG), (A_CXCL10_AA, A_CXCL10_AG), (A_TRIM8_AA, A_TRIM8_AG)]
B_POINTS = [(B_ADAR_AA, B_ADAR_AG), (B_MxA_AA, B_MxA_AG), (B_OAS1_AA, B_OAS1_AG), (B_PKR_AA, B_PKR_AG),
            (B_ISG20_AA, B_ISG20_AG), (B_JAK1_AA, B_JAK1_AG), (B_STAT1_AA, B_STAT1_AG),
            (B_ISG15_AA, B_ISG15_AG), (B_STAT2_AA, B_STAT2_AG), (B_USP18_AA, B_USP18_AG),
            (B_SOCS1_AA, B_SOCS1_AG), (B_SOCS3_AA, B_SOCS3_AG), (B_PIAS1_AA, B_PIAS1_AG),
            (B_PTPN6_AA, B_PTPN6_AG), (B_IFIT3_AA, B_IFIT3_AG), (B_TRIM22_AA, B_TRIM22_AG),
            (B_STING_AA, B_STING_AG), (B_CXCL10_AA, B_CXCL10_AG), (B_TRIM8_AA, B_TRIM8_AG)]

# ======================= Layout / style =======================
FIG_W, FIG_H, DPI = 3788, 4600, 100
ROW_TOP = [102, 673, 1253, 1843, 2459, 3025, 3603, 4187]
ROW_BOT = [477, 1046, 1625, 2215, 2834, 3398, 3976, 4560]
COL_LEFT = {'A': [122, 902, 1677, 2465, 3236], 'B': [135, 898, 1670, 2450, 3225]}
TOP_OVERRIDE = {('A', 0): 113}
AX_W = 548
BLUE = '#4B93EC'
RED = '#FF0000'
DOT_PX = 14.5


def row_offsets(ypix, d, wmax, bh):
    """GraphPad-like scatter: values binned into rows, spread sideways, lowest at centre."""
    b = np.floor((ypix - ypix.min()) / bh).astype(int)
    xs = np.zeros(len(ypix))
    flip = 0
    for bi in np.unique(b):
        idx = np.where(b == bi)[0]
        idx = idx[np.argsort(ypix[idx], kind='stable')]
        n = len(idx)
        sp = 1.2 * d if n < 2 else min(1.2 * d, 2 * wmax / (n - 1))
        slots = (np.arange(n) - (n - 1) / 2.0) * sp
        pos = sorted(slots, key=lambda s: (round(abs(s), 6), s))
        out = []
        i = 0
        while i < len(pos):
            if i + 1 < len(pos) and abs(abs(pos[i]) - abs(pos[i + 1])) < 1e-6:
                pair = [pos[i], pos[i + 1]]
                if flip % 2:
                    pair = pair[::-1]
                flip += 1
                out += pair
                i += 2
            else:
                out.append(pos[i])
                i += 1
        for j, k in enumerate(idx):
            xs[k] = out[j]
    return xs


fig = plt.figure(figsize=(FIG_W / DPI, FIG_H / DPI), dpi=DPI)


def draw_panel(sec, k, pts, yticks, ymin, means, sds, sig):
    row = k // 5 + (0 if sec == 'A' else 4)
    col = k % 5
    top, bot = TOP_OVERRIDE.get((sec, k), ROW_TOP[row]), ROW_BOT[row]
    left = COL_LEFT[sec][col]
    h = bot - top
    ax = fig.add_axes([left / FIG_W, 1 - bot / FIG_H, AX_W / FIG_W, h / FIG_H])
    ax.set_xlim(-0.5, 1.5)
    ax.set_ylim(ymin, yticks[-1])
    color = RED if sig else BLUE
    ppu = AX_W / 2.0
    for i, (vals, marker, size) in enumerate([(pts[0], 'o', 100), (pts[1], 's', 88)]):
        vals = np.asarray(vals, dtype=float)
        ypix = ax.transData.transform(np.column_stack([np.zeros(len(vals)), vals]))[:, 1]
        offs = row_offsets(ypix, DOT_PX, 0.31 * ppu, 1.5 * DOT_PX) / ppu
        ax.scatter(i + offs, vals, s=size, marker=marker, color=color, linewidths=0, zorder=2, clip_on=False)
        m, s = means[i], sds[i]
        lw = 2.6
        ax.plot([i - 0.33, i + 0.33], [m, m], color='black', lw=lw, zorder=3, solid_capstyle='butt')
        ax.plot([i, i], [m - s, m + s], color='black', lw=lw, zorder=3, solid_capstyle='butt')
        for yv in (m - s, m + s):
            if yv >= ymin:
                ax.plot([i - 0.165, i + 0.165], [yv, yv], color='black', lw=lw, zorder=3, solid_capstyle='butt')
    for sp in ('top', 'right'):
        ax.spines[sp].set_visible(False)
    for sp in ('left', 'bottom'):
        ax.spines[sp].set_linewidth(3)
    ax.set_yticks(yticks)
    ax.set_yticklabels([str(t) for t in yticks], fontsize=18, fontweight='bold')
    ax.set_xticks([0, 1])
    ax.set_xticklabels(GROUPS, fontsize=18, fontweight='bold')
    ax.tick_params(axis='both', direction='out', length=7, width=2.6, pad=4)
    ax.tick_params(axis='x', pad=6)
    ax.set_ylabel(YLABEL, fontsize=20, fontweight='bold', labelpad=8)
    ax.text(0.5, 1 + 56.0 / h, GENES[k], transform=ax.transAxes, ha='center', va='center',
            fontsize=21, fontweight='bold')
    if sig:
        ybar = 1 - 7.0 / h
        ax.plot([0, 1], [ybar, ybar], transform=ax.get_xaxis_transform(), color='black', lw=2.6,
                clip_on=False, solid_capstyle='butt')
        ax.text(0.5, ybar + 8.0 / h, sig, transform=ax.get_xaxis_transform(), ha='center', va='bottom',
                fontsize=18, fontweight='bold')
    return ax


for k in range(len(GENES)):
    draw_panel('A', k, A_POINTS[k], A_YTICKS[k], A_YMIN[k], (A_MEAN_AA[k], A_MEAN_AG[k]),
               (A_SD_AA[k], A_SD_AG[k]), A_SIG[k])
    draw_panel('B', k, B_POINTS[k], B_YTICKS[k], B_YMIN[k], (B_MEAN_AA[k], B_MEAN_AG[k]),
               (B_SD_AA[k], B_SD_AG[k]), B_SIG[k])

fig.text(4 / FIG_W, 1 - 27 / FIG_H, 'A', ha='left', va='center', fontsize=36, fontweight='normal')
fig.text(4 / FIG_W, 1 - 2377 / FIG_H, 'B', ha='left', va='center', fontsize=36, fontweight='normal')

fig.savefig('out.png', dpi=DPI)
